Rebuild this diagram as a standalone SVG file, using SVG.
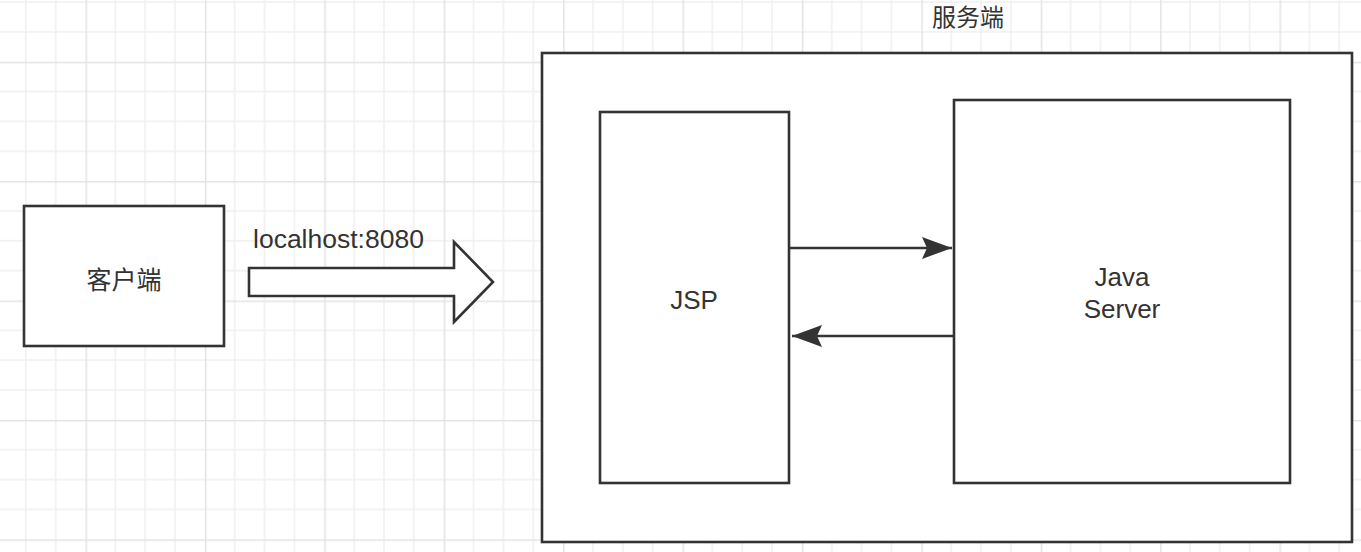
<svg xmlns="http://www.w3.org/2000/svg" width="1361" height="552" viewBox="0 0 1361 552">
<style>
.box{fill:#ffffff;stroke:#333333;stroke-width:2.6}
.lbl{font-family:"Liberation Sans","Noto Sans CJK SC",sans-serif;font-size:26px;fill:#333333;text-anchor:middle}
.cjk{font-family:"Noto Sans CJK SC","Liberation Sans",sans-serif;font-size:25px;fill:#333333;text-anchor:middle;dominant-baseline:central}
.edge{stroke:#333333;stroke-width:2.6;fill:none}
.minor{stroke:#efefef;stroke-width:1.5}
.major{stroke:#e3e3e3;stroke-width:1.5}
</style>
<defs>
<pattern id="grid" patternUnits="userSpaceOnUse" x="85.5" y="61.7" width="119.4" height="119.4">
<line class="minor" x1="29.85" y1="0" x2="29.85" y2="119.4"/>
<line class="minor" x1="59.7" y1="0" x2="59.7" y2="119.4"/>
<line class="minor" x1="89.55" y1="0" x2="89.55" y2="119.4"/>
<line class="minor" x1="0" y1="29.85" x2="119.4" y2="29.85"/>
<line class="minor" x1="0" y1="59.7" x2="119.4" y2="59.7"/>
<line class="minor" x1="0" y1="89.55" x2="119.4" y2="89.55"/>
<line class="major" x1="0.75" y1="0" x2="0.75" y2="119.4"/>
<line class="major" x1="0" y1="0.75" x2="119.4" y2="0.75"/>
</pattern>
<marker id="arr" viewBox="0 0 30 22" refX="30" refY="11" markerWidth="30" markerHeight="22" markerUnits="userSpaceOnUse" orient="auto">
<path d="M0,0 L30,11 L0,22 L5,11 Z" fill="#333333"/>
</marker>
</defs>
<rect x="0" y="0" width="1361" height="552" fill="#ffffff"/>
<rect x="0" y="0" width="1361" height="552" fill="url(#grid)"/>

<g id="client">
<rect class="box" x="24" y="206" width="200" height="140"/>
<text class="cjk" x="124" y="277.5">客户端</text>
</g>

<g id="server">
<rect class="box" x="542" y="53" width="810" height="489"/>
<text class="cjk" x="968" y="15" style="font-size:24px">服务端</text>
</g>

<g id="jsp">
<rect class="box" x="600" y="112" width="189" height="371"/>
<text class="lbl" x="694" y="309">JSP</text>
</g>

<g id="javaserver">
<rect class="box" x="954" y="100" width="336" height="383"/>
<text class="lbl" x="1122" y="286">Java</text>
<text class="lbl" x="1122" y="318">Server</text>
</g>

<g id="connectors">
<g id="request">
<polygon class="edge" points="249,268 454,268 454,242 493,282 454,322 454,296 249,296" style="fill:#ffffff"/>
<text class="lbl" x="253" y="248" style="text-anchor:start;font-size:26.5px">localhost:8080</text>
</g>
<line class="edge" x1="790" y1="248" x2="952" y2="248" marker-end="url(#arr)"/>
<line class="edge" x1="953" y1="336" x2="792" y2="336" marker-end="url(#arr)"/>
</g>
</svg>
